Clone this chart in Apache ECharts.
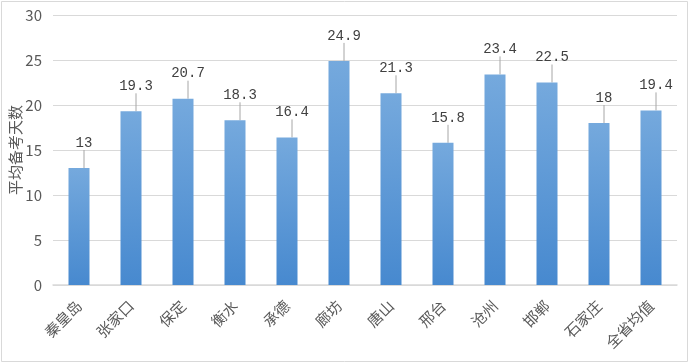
<!DOCTYPE html>
<html>
<head>
<meta charset="utf-8">
<script src="https://cdn.jsdelivr.net/npm/echarts@6/dist/echarts.min.js"></script>
<style>
html,body{margin:0;padding:0;background:#fff;}
#main{width:689px;height:363px;}
</style>
</head>
<body>
<div id="main"></div>
<script>
const categories = ['秦皇岛','张家口','保定','衡水','承德','廊坊','唐山','邢台','沧州','邯郸','石家庄','全省均值'];
const values = [13, 19.3, 20.7, 18.3, 16.4, 24.9, 21.3, 15.8, 23.4, 22.5, 18, 19.4];
const yTicks = { min: 0, max: 30, interval: 5 };
const yName = '平均备考天数';

const chart = echarts.init(document.getElementById('main'), null, { renderer: 'canvas' });
chart.setOption({
  animation: false,
  backgroundColor: '#ffffff',
  graphic: [{
    type: 'rect', shape: { x: 1.5, y: 1.5, width: 686, height: 360 },
    style: { fill: 'none', stroke: '#d9d9d9', lineWidth: 1 }, silent: true
  }],
  grid: { left: 53, right: 12, top: 15, bottom: 78, containLabel: false, outerBoundsMode: 'none' },
  xAxis: {
    type: 'category',
    data: categories,
    axisLine: { lineStyle: { color: '#d9d9d9', width: 1.5 } },
    axisTick: { show: false },
    axisLabel: {
      rotate: 45, interval: 0, margin: 18,
      color: '#595959', fontSize: 15, fontFamily: 'Noto Sans CJK SC'
    }
  },
  yAxis: {
    type: 'value',
    min: yTicks.min, max: yTicks.max, interval: yTicks.interval,
    name: yName,
    nameLocation: 'middle',
    nameGap: 30,
    nameMoveOverlap: false,
    nameRotate: 90,
    nameTextStyle: { color: '#595959', fontSize: 15, fontFamily: 'Noto Sans CJK SC' },
    axisLine: { show: false },
    axisTick: { show: false },
    axisLabel: { color: '#595959', fontSize: 15, margin: 11, fontFamily: 'Noto Sans CJK SC' },
    splitLine: { lineStyle: { color: '#d9d9d9', width: 1 } }
  },
  series: [{
    type: 'bar',
    data: values,
    barWidth: 21,
    itemStyle: {
      color: new echarts.graphic.LinearGradient(0, 0, 0, 1, [
        { offset: 0, color: '#75a9dd' },
        { offset: 1, color: '#4789cf' }
      ])
    },
    label: {
      show: true, position: 'top', distance: 2,
      color: '#404040', fontSize: 14, fontFamily: 'Liberation Mono'
    },
    labelLayout: { dy: -16, dx: 5 },
    labelLine: { show: true, lineStyle: { color: '#a6a6a6', width: 1 } }
  }]
});
</script>
</body>
</html>
